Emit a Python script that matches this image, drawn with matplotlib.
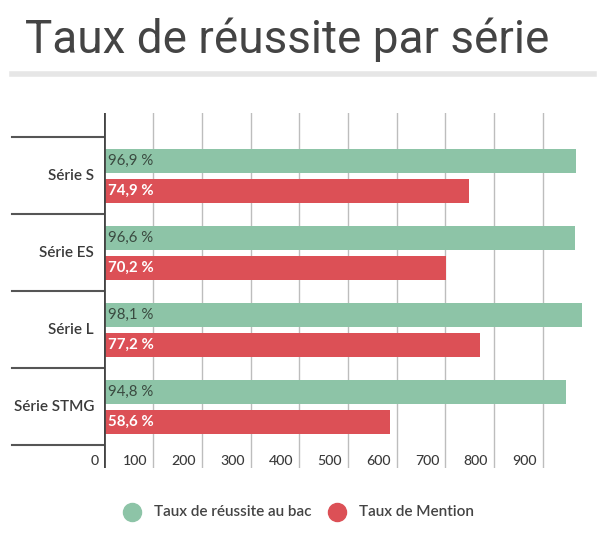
#!/usr/bin/env python3
import matplotlib; matplotlib.use('Agg')  # noqa
import matplotlib.pyplot as plt
import matplotlib.transforms as mtransforms
from matplotlib.lines import Line2D

series = ['Série S', 'Série ES', 'Série L', 'Série STMG']
bac = [96.9, 96.6, 98.1, 94.8]
mention = [74.9, 70.2, 77.2, 58.6]
xticks = [0, 100, 200, 300, 400, 500, 600, 700, 800, 900]
legend_labels = ['Taux de réussite au bac', 'Taux de Mention']

GREEN = '#8dc4a7'
RED = '#dc5056'
DARK = '#3a3a3a'


def fmt(v):
    return ('%.1f %%' % v).replace('.', ',')


W, H = 600, 557
fig = plt.figure(figsize=(W / 100, H / 100), dpi=100)


def px(x, y):
    # pixel (from top-left) to figure fraction
    return x / W, 1 - y / H


# title and the grey rule below it
fig.text(*px(25, 53), 'Taux de réussite par série', fontsize=33,
         family='Roboto', color='#444444', va='baseline', ha='left')
fig.add_artist(Line2D([12 / W, 594 / W], [1 - 73.5 / H, 1 - 73.5 / H],
                      color='#e6e6e6', lw=4, transform=fig.transFigure))

left, right = 104.4, 591.4
top, bottom = 113, 468
ax = fig.add_axes([left / W, 1 - bottom / H, (right - left) / W,
                   (bottom - top) / H])
xmax = 1000
ax.set_xlim(0, xmax)
ax.set_ylim(3.5 + 23 / 77, -0.5 - 24 / 77)
for s in ax.spines.values():
    s.set_visible(False)
ax.set_xticks([])
ax.set_yticks([])

# vertical grid
for t in xticks[1:]:
    ax.axvline(t, color='#bdbdbd', lw=1, zorder=0)
ax.axvline(0, color='#444444', lw=2, zorder=3)

bh = 24 / 77
off = 15 / 77
pos = list(range(len(series)))
ax.barh([p - off for p in pos], [v * 10 for v in bac], height=bh,
        color=GREEN, zorder=2)
ax.barh([p + off for p in pos], [v * 10 for v in mention], height=bh,
        color=RED, zorder=2)

# value labels inside the bars
for p, b, m in zip(pos, bac, mention):
    ax.text(8, p - off, fmt(b), family='Lato', fontsize=10.8,
            color='#3a4a40', va='center', ha='left', zorder=4)
    ax.text(8, p + off, fmt(m), family='Lato', fontsize=10.8,
            fontweight='bold', color='white', va='center', ha='left',
            zorder=4)

# category separators and labels, left of the axis
yax = mtransforms.blended_transform_factory(fig.transFigure, ax.transData)
for k in range(len(series) + 1):
    ax.add_line(Line2D([12 / W, left / W], [k - 0.5, k - 0.5],
                       color='#555555', lw=1.5, transform=yax,
                       clip_on=False))
for p, name in zip(pos, series):
    ax.text(94 / W, p, name, transform=yax, ha='right', va='center',
            family='Lato', fontsize=11, fontweight='semibold', color=DARK)

# x tick labels, right aligned just left of each grid line
xax = mtransforms.blended_transform_factory(ax.transData, fig.transFigure)
for t in xticks:
    ax.text(t - 12, 1 - 461 / H, str(t), transform=xax, ha='right',
            va='center', family='Lato', fontsize=10.2, fontweight='medium',
            color=DARK)

# legend
for cx, tx, col, lab in [(132, 154, GREEN, legend_labels[0]),
                         (337, 359, RED, legend_labels[1])]:
    fig.add_artist(Line2D([cx / W], [1 - 512 / H], marker='o',
                          markersize=13, color=col, lw=0,
                          transform=fig.transFigure))
    fig.text(*px(tx, 512), lab, family='Lato', fontsize=11,
             fontweight='semibold', color='#444444', va='center',
             ha='left')

fig.savefig('out.png', dpi=100)
